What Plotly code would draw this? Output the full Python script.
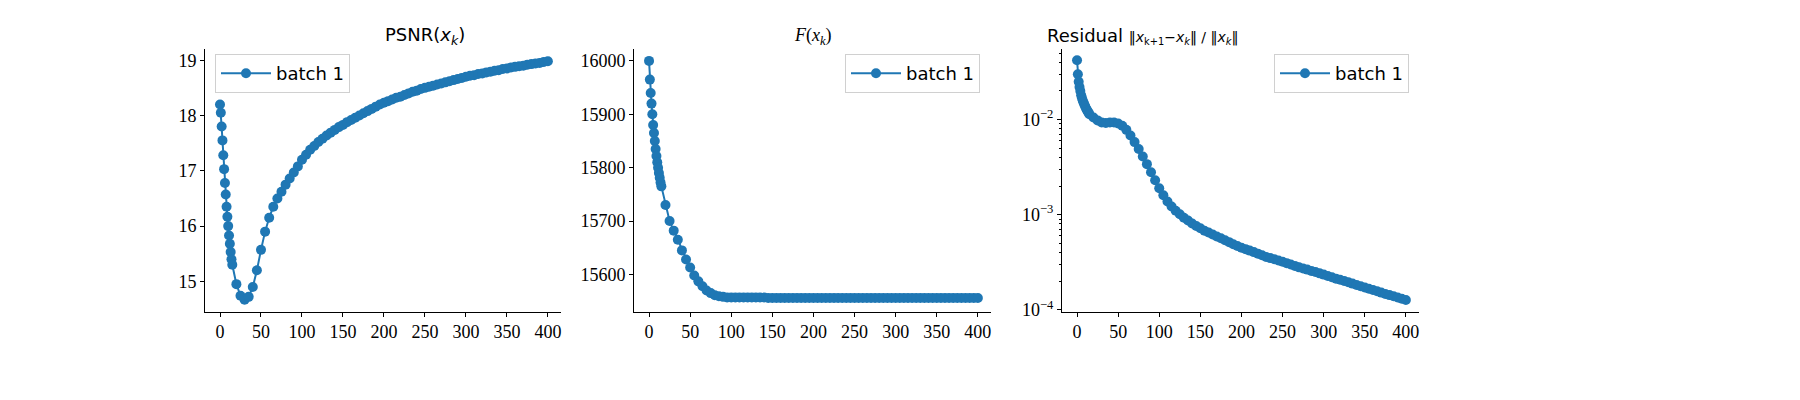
import plotly.graph_objects as go

iters = list(range(0, 15)) + list(range(15, 401, 5))

psnr = [18.2, 18.05, 17.8, 17.55, 17.28, 17.03, 16.78, 16.57, 16.35, 16.17, 16.0, 15.83, 15.68, 15.53, 15.4,
        15.3, 14.95, 14.74, 14.67, 14.72, 14.9, 15.2, 15.57, 15.9, 16.15, 16.35, 16.5, 16.62, 16.75, 16.86, 16.97, 17.08, 17.2,
        17.29, 17.38, 17.45, 17.52, 17.58, 17.64, 17.69, 17.74, 17.79, 17.83, 17.88, 17.92, 17.96, 18.0, 18.04, 18.08, 18.12,
        18.16, 18.2, 18.23, 18.26, 18.29, 18.32, 18.34, 18.37, 18.4, 18.43, 18.45, 18.48, 18.5, 18.52, 18.54, 18.56, 18.58,
        18.6, 18.62, 18.64, 18.66, 18.68, 18.7, 18.72, 18.73, 18.75, 18.76, 18.78, 18.79, 18.81, 18.82, 18.84, 18.85, 18.87,
        18.88, 18.89, 18.9, 18.92, 18.93, 18.94, 18.95, 18.97, 18.98]

fval = [16000, 15965, 15940, 15920, 15900, 15880, 15865, 15850, 15835, 15822, 15810, 15800, 15790, 15781, 15772,
        15765, 15730, 15700, 15682, 15665, 15645, 15628, 15613, 15598, 15587, 15578, 15570, 15565, 15561, 15559, 15558, 15557, 15557,
        15557, 15557, 15557, 15557, 15557, 15557, 15557, 15557] + [15556] * 52

resid = [0.042, 0.030, 0.025, 0.022, 0.020, 0.018, 0.0168, 0.0158, 0.015, 0.0143, 0.0137, 0.0131, 0.0126, 0.0122, 0.0118,
         0.0114, 0.0105, 0.0098, 0.0093, 0.0092, 0.0093, 0.0093, 0.0091, 0.0086, 0.0078, 0.0068, 0.0058, 0.0049, 0.0041, 0.0034, 0.0028, 0.0023, 0.0019,
         0.0016, 0.00138, 0.00122, 0.0011, 0.00101, 0.00093, 0.00087, 0.00081, 0.00076, 0.00072, 0.00068, 0.00065, 0.00062, 0.00059,
         0.000565, 0.00054, 0.000515, 0.00049, 0.00047, 0.00045, 0.000435, 0.00042, 0.000405, 0.00039, 0.000375, 0.00036, 0.00035,
         0.00034, 0.00033, 0.00032, 0.00031, 0.0003, 0.00029, 0.00028, 0.000272, 0.000265, 0.000257, 0.00025, 0.000242, 0.000235,
         0.000227, 0.00022, 0.000213, 0.000207, 0.000201, 0.000195, 0.000189, 0.000183, 0.000177, 0.000172, 0.000167, 0.000162,
         0.000157, 0.000152, 0.000147, 0.000143, 0.000139, 0.000135, 0.000131, 0.000127]

series_name = "batch 1"
color = "#1f77b4"
serif = "Liberation Serif, DejaVu Serif, serif"
sans = "DejaVu Sans, sans-serif"

fig = go.Figure()
doms = [(197/1800, 553/1800), (626/1800, 983/1800), (1054/1800, 1411/1800)]
ydom = [1-310/400, 1-42/400]
data = [psnr, fval, resid]
legpos = [(207/1800, 1-47/400, "left"), (972/1800, 1-47/400, "right"), (1401/1800, 1-47/400, "right")]
for i, ys in enumerate(data):
    sfx = "" if i == 0 else str(i+1)
    fig.add_trace(go.Scatter(x=iters, y=ys, mode="lines+markers", name=series_name,
                             line=dict(color=color, width=2), marker=dict(color=color, size=10),
                             xaxis="x"+sfx, yaxis="y"+sfx, legend="legend"+sfx))
    lx, ly, anc = legpos[i]
    fig.update_layout(**{"legend"+sfx: dict(x=lx, y=ly, xanchor=anc, yanchor="top", xref="paper", yref="paper",
                        bgcolor="white", bordercolor="#d0d0d0", borderwidth=1, itemwidth=50,
                        font=dict(family=sans, size=18, color="black"))})
    axcommon = dict(showgrid=False, zeroline=False, showline=True, linecolor="black", linewidth=1,
                    ticks="outside", ticklen=4, tickcolor="black", tickfont=dict(family=serif, size=18, color="black"))
    fig.update_layout(**{"xaxis"+sfx: dict(domain=list(doms[i]), anchor="y"+sfx, range=[-18.3, 416],
                                            tickvals=list(range(0, 401, 50)), **axcommon)})
    if i == 0:
        ya = dict(range=[14.45, 19.2], tickvals=[15, 16, 17, 18, 19])
    elif i == 1:
        ya = dict(range=[15530, 16022], tickvals=[15600, 15700, 15800, 15900, 16000], tickformat="d")
    else:
        ya = dict(type="log", range=[-4.02, -1.26], tickvals=[1e-4, 1e-3, 1e-2],
                  ticktext=["10<sup>−4</sup>", "10<sup>−3</sup>", "10<sup>−2</sup>"],
                  minor=dict(ticks="outside", ticklen=2, tickcolor="black",
                             tickvals=[m*10**e for e in (-4, -3, -2) for m in range(2, 10) if m*10**e < 0.055]))
    fig.update_layout(**{"yaxis"+sfx: dict(domain=ydom, anchor="x"+sfx, **ya, **axcommon)})

titles = ["PSNR(<i>x<sub>k</sub></i>)", "<i>F</i>(<i>x<sub>k</sub></i>)",
          "Residual <span style='font-size:14px'>‖<i>x</i><sub>k+1</sub>−<i>x<sub>k</sub></i>‖ / ‖<i>x<sub>k</sub></i>‖</span>"]
tfonts = [sans, serif, sans]
for i, t in enumerate(titles):
    fig.add_annotation(text=t, x=(doms[i][0]+doms[i][1])/2, y=1-29/400, xref="paper", yref="paper",
                       showarrow=False, yanchor="middle", font=dict(family=tfonts[i], size=18, color="black"))

fig.update_layout(width=1800, height=400, margin=dict(l=0, r=0, t=0, b=0),
                  plot_bgcolor="white", paper_bgcolor="white", showlegend=True)
fig.write_html("out.html")
